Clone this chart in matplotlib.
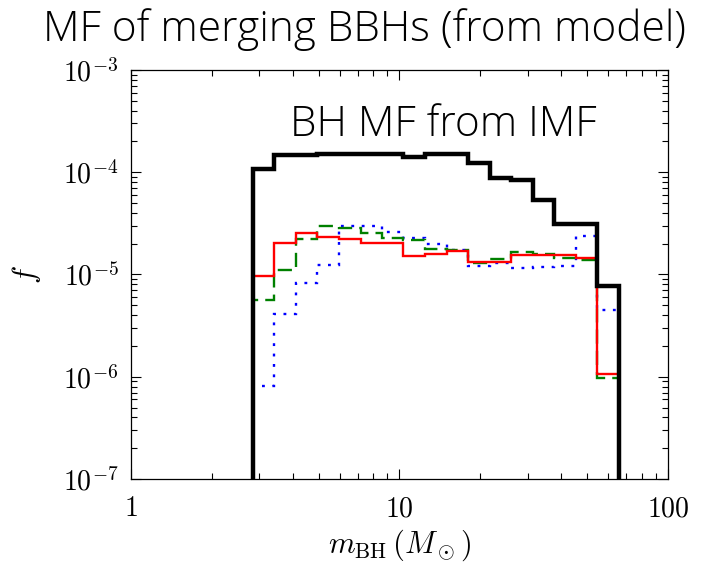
import matplotlib.pyplot as plt
from matplotlib.ticker import LogLocator, FixedLocator, FixedFormatter, NullFormatter

plt.rcParams['mathtext.fontset'] = 'cm'

# bin edges in M_sun
mass_edges = [2.85, 3.42, 4.12, 4.95, 5.95, 7.16, 8.61, 10.35, 12.45, 14.97,
              18.0, 21.65, 26.04, 31.31, 37.65, 45.28, 54.45, 65.48]

# BH MF from IMF (black)
f_imf = [1.08e-4, 1.47e-4, 1.47e-4, 1.52e-4, 1.52e-4, 1.52e-4, 1.52e-4, 1.41e-4, 1.5e-4,
         1.5e-4, 1.23e-4, 8.8e-5, 8.4e-5, 5.35e-5, 3.12e-5, 3.12e-5, 7.7e-6]
# merging BBH models
f_red = [9.7e-6, 2.05e-5, 2.53e-5, 2.34e-5, 2.21e-5, 2.05e-5, 2.05e-5, 1.52e-5, 1.58e-5,
         1.71e-5, 1.32e-5, 1.32e-5, 1.55e-5, 1.55e-5, 1.55e-5, 1.44e-5, 1.06e-6]
f_green = [5.6e-6, 1.11e-5, 2.21e-5, 3.0e-5, 2.83e-5, 2.53e-5, 2.26e-5, 2.18e-5, 1.77e-5,
           1.75e-5, 1.29e-5, 1.42e-5, 1.67e-5, 1.58e-5, 1.46e-5, 1.39e-5, 9.7e-7]
f_blue = [8.2e-7, 4.1e-6, 8.2e-6, 1.24e-5, 3.0e-5, 3.0e-5, 2.58e-5, 2.26e-5, 1.98e-5,
          1.75e-5, 1.22e-5, 1.29e-5, 1.17e-5, 1.19e-5, 1.2e-5, 2.4e-5, 4.5e-6]

x_ticks = [1, 10, 100]
x_labels = ['$1$', '$10$', '$100$']
y_ticks = [1e-7, 1e-6, 1e-5, 1e-4, 1e-3]
y_labels = ['$10^{-7}$', '$10^{-6}$', '$10^{-5}$', '$10^{-4}$', '$10^{-3}$']

fig = plt.figure(figsize=(7.03, 5.63), dpi=100)
ax = fig.add_axes([0.1863, 0.1492, 0.7639, 0.7265])

base = 1e-10
ax.stairs(f_blue, mass_edges, baseline=base, color='blue', lw=1.7, linestyle=(0, (1.2, 3.2)))
ax.stairs(f_green, mass_edges, baseline=base, color='green', lw=1.7, linestyle=(0, (6, 3)))
ax.stairs(f_red, mass_edges, baseline=base, color='red', lw=1.7)
ax.stairs(f_imf, mass_edges, baseline=base, color='black', lw=3.2)

ax.set_xscale('log')
ax.set_yscale('log')
ax.set_xlim(1, 100)
ax.set_ylim(1e-7, 1e-3)

ax.xaxis.set_major_locator(FixedLocator(x_ticks))
ax.xaxis.set_major_formatter(FixedFormatter(x_labels))
ax.xaxis.set_minor_locator(LogLocator(base=10, subs=range(2, 10)))
ax.xaxis.set_minor_formatter(NullFormatter())
ax.yaxis.set_major_locator(FixedLocator(y_ticks))
ax.yaxis.set_major_formatter(FixedFormatter(y_labels))
ax.yaxis.set_minor_locator(LogLocator(base=10, subs=range(2, 10), numticks=20))
ax.yaxis.set_minor_formatter(NullFormatter())

ax.tick_params(which='both', direction='in', top=True, right=True, labelsize=20, width=0.8)
ax.tick_params(which='major', length=7)
ax.tick_params(axis='x', which='major', pad=11)
ax.tick_params(axis='y', which='major', pad=9)
ax.tick_params(which='minor', length=4)
for s in ax.spines.values():
    s.set_linewidth(0.9)

ax.set_xlabel(r'$m_{\rm BH}\,(M_\odot)$', fontsize=22, labelpad=4)
ax.set_ylabel(r'$f$', fontsize=22, labelpad=14)

ax.text(0.296, 0.865, 'BH MF from IMF', transform=ax.transAxes, family='Open Sans',
        weight='light', fontsize=30.5, va='center', ha='left')
fig.text(0.519, 0.948, 'MF of merging BBHs (from model)', family='Open Sans',
         weight='light', fontsize=30.5, va='center', ha='center')

fig.savefig('out.png', dpi=100)
